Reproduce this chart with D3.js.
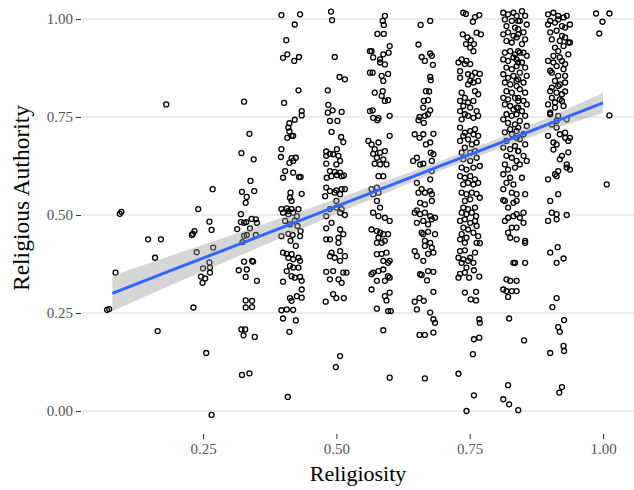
<!DOCTYPE html>
<html lang="en">
  <head>
    <meta charset="utf-8" />
    <script src="https://d3js.org/d3.v7.min.js"></script>
    <style>
      body {
        margin: 0;
        background: white;
      }
      .axis .domain {
        display: none;
      }
      .axis text {
        font-family: "Liberation Serif", serif;
        font-size: 15px;
        fill: #555;
      }
      .axis line {
        stroke: #333;
      }
    </style>
    <title>Religiosity vs Religious Authority</title>
  </head>

  <body>
    <svg id="scatter" width="634" height="490"></svg>

    <script>
      // points, grouped by religiosity column: [religiosity, authority]
      const col083 = [[0.070,0.258],[0.074,0.260],[0.086,0.353],[0.094,0.503],[0.097,0.508]];
      const col167 = [[0.147,0.438],[0.171,0.438],[0.160,0.391],[0.165,0.204],[0.181,0.782]];
      const col250 = [[0.232,0.264],[0.229,0.449],[0.231,0.452],[0.234,0.459],[0.241,0.515],[0.238,0.405],[0.256,0.148],[0.266,-0.010],[0.250,0.364],[0.254,0.338],[0.246,0.343],[0.249,0.327],[0.263,0.353],[0.262,0.379],[0.263,0.366],[0.262,0.483],[0.266,0.462],[0.269,0.417],[0.268,0.566]];
      const col333 = [[0.327,0.789],[0.337,0.707],[0.322,0.658],[0.345,0.642],[0.339,0.587],[0.323,0.559],[0.332,0.546],[0.346,0.561],[0.330,0.531],[0.321,0.502],[0.321,0.482],[0.327,0.480],[0.331,0.482],[0.341,0.490],[0.349,0.489],[0.351,0.480],[0.314,0.464],[0.338,0.466],[0.327,0.447],[0.332,0.449],[0.324,0.431],[0.349,0.449],[0.327,0.381],[0.342,0.383],[0.344,0.381],[0.317,0.359],[0.332,0.361],[0.330,0.342],[0.351,0.332],[0.330,0.282],[0.342,0.281],[0.330,0.264],[0.342,0.265],[0.322,0.208],[0.329,0.208],[0.326,0.193],[0.347,0.189],[0.323,0.092],[0.337,0.096]];
      const col417 = [[0.397,1.010],[0.432,1.012],[0.422,0.986],[0.406,0.946],[0.400,0.901],[0.408,0.910],[0.421,0.893],[0.430,0.903],[0.429,0.818],[0.402,0.786],[0.435,0.765],[0.435,0.754],[0.422,0.743],[0.412,0.734],[0.412,0.713],[0.416,0.702],[0.408,0.697],[0.419,0.702],[0.410,0.723],[0.397,0.668],[0.396,0.648],[0.416,0.645],[0.424,0.646],[0.412,0.633],[0.419,0.638],[0.404,0.612],[0.400,0.595],[0.419,0.608],[0.430,0.597],[0.433,0.597],[0.414,0.557],[0.435,0.554],[0.416,0.536],[0.413,0.544],[0.397,0.515],[0.407,0.517],[0.416,0.515],[0.429,0.515],[0.410,0.510],
        [0.400,0.506],[0.410,0.502],[0.419,0.506],[0.426,0.497],[0.404,0.485],[0.413,0.476],[0.422,0.485],[0.427,0.472],[0.433,0.459],[0.410,0.452],[0.418,0.449],[0.432,0.446],[0.397,0.446],[0.414,0.434],[0.424,0.421],[0.400,0.404],[0.407,0.401],[0.416,0.400],[0.410,0.391],[0.419,0.387],[0.429,0.391],[0.432,0.383],[0.413,0.370],[0.419,0.366],[0.429,0.366],[0.407,0.357],[0.416,0.344],[0.422,0.340],[0.432,0.342],[0.435,0.332],[0.400,0.330],[0.435,0.310],[0.426,0.293],[0.413,0.288],[0.435,0.289],[0.416,0.281],[0.397,0.257],[0.407,0.259],[0.419,0.258],[0.400,0.236],[0.424,0.231],[0.412,0.202],[0.409,0.036]];
      const col500 = [[0.490,1.019],[0.492,0.997],[0.497,0.903],[0.506,0.852],[0.516,0.846],[0.484,0.818],[0.485,0.781],[0.484,0.761],[0.493,0.767],[0.510,0.763],[0.488,0.740],[0.502,0.740],[0.491,0.712],[0.509,0.699],[0.513,0.686],[0.501,0.668],[0.481,0.662],[0.488,0.656],[0.494,0.655],[0.481,0.651],[0.504,0.651],[0.507,0.638],[0.481,0.631],[0.500,0.629],[0.488,0.612],[0.497,0.610],[0.507,0.608],[0.510,0.599],[0.514,0.601],[0.491,0.599],[0.501,0.602],[0.482,0.595],[0.481,0.570],[0.488,0.561],[0.500,0.563],[0.510,0.566],[0.516,0.566],[0.479,0.548],[0.497,0.557],[0.507,0.553],[0.500,0.536],[0.500,0.519],[0.510,0.515],[0.488,0.515],
        [0.481,0.497],[0.507,0.506],[0.516,0.500],[0.491,0.480],[0.481,0.466],[0.507,0.463],[0.513,0.451],[0.481,0.438],[0.488,0.438],[0.504,0.442],[0.504,0.429],[0.491,0.404],[0.507,0.408],[0.516,0.395],[0.488,0.395],[0.507,0.383],[0.497,0.391],[0.481,0.355],[0.494,0.357],[0.513,0.353],[0.519,0.353],[0.488,0.336],[0.504,0.336],[0.510,0.327],[0.494,0.298],[0.500,0.288],[0.514,0.288],[0.480,0.279],[0.507,0.140],[0.499,0.112]];
      const col583 = [[0.591,1.008],[0.587,0.995],[0.589,0.985],[0.577,0.962],[0.589,0.962],[0.600,0.931],[0.566,0.918],[0.588,0.910],[0.598,0.914],[0.582,0.897],[0.569,0.902],[0.591,0.884],[0.582,0.889],[0.568,0.863],[0.585,0.855],[0.597,0.860],[0.588,0.842],[0.572,0.812],[0.587,0.816],[0.585,0.804],[0.591,0.791],[0.597,0.793],[0.568,0.767],[0.569,0.748],[0.579,0.747],[0.600,0.753],[0.577,0.742],[0.600,0.702],[0.579,0.685],[0.572,0.668],[0.582,0.659],[0.591,0.663],[0.576,0.646],[0.588,0.642],[0.566,0.680],[0.569,0.656],[0.572,0.631],[0.582,0.629],[0.594,0.629],[0.579,0.599],[0.588,0.599],[0.576,0.570],[0.566,0.566],[0.569,0.553],[0.579,0.557],[0.576,0.536],[0.582,0.519],[0.563,0.918],[0.563,0.863],[0.563,0.765],[0.560,0.689],
        [0.569,0.506],[0.579,0.497],[0.591,0.493],[0.600,0.485],[0.566,0.463],[0.576,0.459],[0.582,0.455],[0.588,0.451],[0.597,0.451],[0.579,0.442],[0.591,0.434],[0.576,0.429],[0.585,0.429],[0.576,0.400],[0.585,0.401],[0.594,0.404],[0.600,0.383],[0.588,0.383],[0.597,0.378],[0.588,0.361],[0.579,0.357],[0.569,0.353],[0.566,0.349],[0.597,0.344],[0.576,0.332],[0.591,0.332],[0.600,0.340],[0.566,0.310],[0.591,0.293],[0.600,0.302],[0.594,0.282],[0.576,0.261],[0.597,0.255],[0.602,0.255],[0.588,0.206],[0.600,0.085]];
      const col667 = [[0.658,0.985],[0.676,0.995],[0.654,0.935],[0.660,0.903],[0.676,0.912],[0.666,0.893],[0.681,0.883],[0.679,0.906],[0.676,0.852],[0.677,0.844],[0.668,0.816],[0.674,0.815],[0.664,0.791],[0.672,0.793],[0.663,0.774],[0.676,0.767],[0.656,0.750],[0.666,0.753],[0.672,0.757],[0.654,0.742],[0.664,0.735],[0.647,0.706],[0.663,0.706],[0.682,0.707],[0.676,0.685],[0.656,0.697],[0.668,0.680],[0.677,0.659],[0.682,0.655],[0.651,0.646],[0.657,0.629],[0.663,0.631],[0.644,0.638],[0.679,0.638],[0.651,0.582],[0.660,0.566],[0.676,0.561],[0.679,0.553],[0.666,0.557],[0.654,0.557],[0.657,0.531],[0.666,0.527],[0.679,0.536],[0.651,0.512],[0.679,0.612],[0.676,0.591],
        [0.647,0.506],[0.657,0.502],[0.666,0.506],[0.676,0.497],[0.685,0.493],[0.651,0.480],[0.663,0.485],[0.672,0.476],[0.679,0.489],[0.660,0.455],[0.663,0.451],[0.672,0.457],[0.685,0.451],[0.666,0.434],[0.676,0.429],[0.666,0.421],[0.679,0.417],[0.682,0.404],[0.651,0.395],[0.672,0.401],[0.663,0.383],[0.647,0.408],[0.657,0.349],[0.660,0.347],[0.672,0.357],[0.682,0.355],[0.670,0.333],[0.682,0.304],[0.647,0.279],[0.656,0.288],[0.664,0.281],[0.651,0.259],[0.676,0.251],[0.682,0.234],[0.685,0.225],[0.656,0.194],[0.666,0.194],[0.682,0.200],[0.666,0.083]];
      const col750 = [[0.738,1.016],[0.743,1.013],[0.760,1.005],[0.768,1.010],[0.756,0.993],[0.737,0.961],[0.746,0.953],[0.763,0.965],[0.771,0.961],[0.752,0.946],[0.743,0.936],[0.758,0.936],[0.751,0.927],[0.757,0.918],[0.735,0.897],[0.744,0.893],[0.729,0.889],[0.741,0.885],[0.751,0.885],[0.732,0.867],[0.747,0.859],[0.754,0.855],[0.760,0.863],[0.769,0.860],[0.751,0.842],[0.757,0.838],[0.766,0.842],[0.747,0.833],[0.732,0.850],[0.735,0.812],[0.741,0.799],[0.732,0.791],[0.760,0.816],[0.766,0.808],[0.757,0.791],[0.747,0.787],[0.738,0.778],[0.751,0.774],[0.763,0.765],[0.732,0.765],[0.741,0.757],[0.747,0.753],[0.757,0.748],[0.766,0.753],[0.735,0.744],[0.732,0.723],[0.741,0.710],[0.751,0.714],[0.760,0.719],[0.738,0.702],[0.757,0.706],[0.766,0.702],[0.747,0.693],[0.732,0.689],[0.754,0.680],[0.763,0.685],[0.741,0.672],[0.735,0.659],[0.751,0.659],[0.760,0.663],[0.738,0.642],[0.751,0.638],[0.763,0.646],[0.735,0.621],[0.744,0.616],[0.757,0.621],[0.769,0.625],[0.732,0.599],[0.741,0.595],[0.751,0.599],[0.760,0.591],[0.747,0.582],[0.738,0.578],[0.757,0.578],[0.766,0.582],[0.735,0.557],[0.744,0.553],[0.754,0.557],[0.763,0.554],[0.741,0.536],[0.751,0.540],[0.769,0.544],[0.738,0.519],[0.747,0.515],[0.760,0.519],
        [0.735,0.506],[0.744,0.502],[0.754,0.506],[0.762,0.497],[0.732,0.485],[0.741,0.489],[0.751,0.480],[0.760,0.485],[0.738,0.468],[0.747,0.463],[0.763,0.472],[0.735,0.451],[0.757,0.455],[0.744,0.442],[0.732,0.438],[0.766,0.446],[0.763,0.429],[0.769,0.428],[0.741,0.429],[0.732,0.408],[0.741,0.410],[0.760,0.404],[0.729,0.391],[0.738,0.387],[0.751,0.391],[0.757,0.378],[0.735,0.378],[0.747,0.383],[0.744,0.366],[0.758,0.359],[0.732,0.350],[0.741,0.353],[0.729,0.340],[0.749,0.340],[0.768,0.343],[0.741,0.302],[0.762,0.304],[0.752,0.285],[0.762,0.282],[0.768,0.234],[0.769,0.225],[0.758,0.183],[0.768,0.187],[0.756,0.145],[0.729,0.095],[0.758,0.040],[0.744,0.000]];
      const col833 = [[0.813,1.016],[0.822,1.012],[0.832,1.016],[0.838,1.008],[0.816,0.999],[0.829,0.995],[0.841,0.995],[0.819,0.982],[0.835,0.978],[0.813,0.961],[0.822,0.966],[0.832,0.957],[0.841,0.961],[0.819,0.944],[0.829,0.940],[0.816,0.914],[0.826,0.918],[0.835,0.910],[0.844,0.914],[0.813,0.897],[0.822,0.893],[0.832,0.902],[0.841,0.889],[0.819,0.876],[0.829,0.872],[0.838,0.880],[0.813,0.859],[0.822,0.850],[0.832,0.855],[0.841,0.846],[0.816,0.838],[0.826,0.833],[0.838,0.829],[0.819,0.816],[0.829,0.812],[0.813,0.799],[0.822,0.795],[0.835,0.799],[0.841,0.791],[0.816,0.782],[0.826,0.778],[0.832,0.769],[0.841,0.774],[0.819,0.757],[0.829,0.753],[0.838,0.757],[0.813,0.744],[0.822,0.735],[0.835,0.731],[0.826,0.719],[0.841,0.723],[0.816,0.711],[0.829,0.706],[0.838,0.697],[0.819,0.689],[0.813,0.672],[0.826,0.668],[0.835,0.676],[0.841,0.663],[0.819,0.651],[0.829,0.646],[0.838,0.638],[0.816,0.629],[0.822,0.616],[0.835,0.621],[0.813,0.604],[0.826,0.595],[0.819,0.582],[0.832,0.578],[0.813,0.566],[0.829,0.557],[0.838,0.553],[0.816,0.536],[0.832,0.531],[0.822,0.519],[0.813,0.538],
        [0.848,1.020],[0.854,1.008],[0.844,0.995],[0.857,0.986],[0.841,0.974],[0.851,0.966],[0.838,0.953],[0.854,0.948],[0.848,0.936],[0.841,0.918],[0.851,0.914],[0.857,0.906],[0.838,0.897],[0.848,0.889],[0.854,0.876],[0.844,0.863],[0.857,0.855],[0.838,0.842],[0.851,0.838],[0.844,0.821],[0.854,0.812],[0.841,0.799],[0.851,0.791],[0.857,0.782],[0.838,0.774],[0.848,0.765],[0.854,0.753],[0.844,0.740],[0.857,0.727],[0.838,0.714],[0.851,0.706],[0.844,0.693],[0.854,0.680],[0.841,0.663],[0.851,0.651],[0.857,0.638],[0.844,0.629],[0.848,0.595],[0.854,0.553],[0.838,0.536],
        [0.816,0.485],[0.822,0.493],[0.832,0.497],[0.838,0.502],[0.829,0.468],[0.822,0.455],[0.826,0.442],[0.838,0.438],[0.832,0.378],[0.819,0.336],[0.826,0.332],[0.838,0.332],[0.813,0.310],[0.819,0.306],[0.829,0.306],[0.838,0.306],[0.822,0.291],[0.824,0.236],[0.822,0.066],[0.813,0.030],[0.824,0.017],[0.841,0.002],
        [0.851,0.506],[0.844,0.493],[0.851,0.480],[0.838,0.468],[0.854,0.434],[0.854,0.429],[0.835,0.378],[0.854,0.378],[0.852,0.180]];
      const col917 = [[0.897,1.012],[0.907,1.016],[0.916,1.008],[0.926,1.004],[0.932,1.008],[0.897,0.986],[0.910,0.991],[0.923,0.982],[0.901,0.966],[0.913,0.970],[0.929,0.953],[0.919,0.944],[0.935,0.940],[0.926,0.931],[0.916,0.918],[0.897,0.893],[0.907,0.889],[0.923,0.893],[0.913,0.880],[0.929,0.885],[0.904,0.863],[0.916,0.855],[0.929,0.855],[0.910,0.842],[0.919,0.833],[0.901,0.816],[0.913,0.812],[0.923,0.808],[0.929,0.815],[0.904,0.799],[0.919,0.795],[0.897,0.782],[0.910,0.774],[0.926,0.778],[0.901,0.757],[0.916,0.753],[0.932,0.744],[0.904,0.731],[0.913,0.723],[0.897,0.702],[0.919,0.706],[0.929,0.697],[0.907,0.685],[0.935,0.689],[0.913,0.680],[0.923,0.651],[0.932,0.629],[0.916,0.612],[0.932,0.621],[0.910,0.604],[0.897,0.591],[0.913,0.599],[0.901,0.536],[0.916,0.553],
        [0.901,0.995],[0.916,0.999],[0.929,0.978],[0.904,0.948],[0.923,0.957],[0.910,0.927],[0.935,0.910],[0.907,0.906],[0.919,0.902],[0.926,0.872],[0.901,0.868],[0.916,0.829],[0.929,0.838],[0.904,0.825],[0.910,0.787],[0.923,0.791],[0.901,0.761],[0.913,0.740],[0.929,0.710],[0.907,0.667],[0.919,0.642],[0.935,0.660],
        [0.904,0.506],[0.913,0.502],[0.932,0.500],[0.897,0.485],[0.913,0.489],[0.901,0.404],[0.915,0.418],[0.913,0.378],[0.926,0.389],[0.913,0.288],[0.905,0.265],[0.927,0.232],[0.916,0.214],[0.919,0.202],[0.901,0.148],[0.926,0.166],[0.927,0.153],[0.923,0.061],[0.918,0.047],
        [0.938,0.986],[0.938,0.940],[0.938,0.697],[0.938,0.616]];
      const col1000 = [[0.987,1.014],[1.012,1.014],[0.999,0.993],[0.993,0.963],[1.012,0.754],[1.007,0.578]];

      // linear fit and its confidence band, read at a few x positions
      const fitX = [0.08, 0.2, 0.3, 0.4, 0.5, 0.6, 0.7, 0.8, 0.9, 1.0];
      const fitY = [0.300, 0.364, 0.416, 0.469, 0.522, 0.575, 0.628, 0.680, 0.733, 0.786];
      const fitLo = [0.255, 0.327, 0.385, 0.444, 0.503, 0.560, 0.616, 0.667, 0.716, 0.761];
      const fitHi = [0.345, 0.401, 0.447, 0.494, 0.541, 0.590, 0.640, 0.693, 0.750, 0.811];

      const xTicks = [0.25, 0.5, 0.75, 1.0];
      const yTicks = [0, 0.25, 0.5, 0.75, 1.0];

      const points = [].concat(col083, col167, col250, col333, col417, col500,
        col583, col667, col750, col833, col917, col1000);
      const fit = fitX.map((x, i) => ({ x: x, y: fitY[i], lo: fitLo[i], hi: fitHi[i] }));

      const svg = d3.select("svg#scatter");
      const panel = { left: 82, right: 634, bottom: 434 };

      const xScale = d3.scaleLinear().domain([0, 1]).range([69.7, 603]);
      const yScale = d3.scaleLinear().domain([0, 1]).range([411, 19]);

      // horizontal gridlines only
      svg
        .append("g")
        .selectAll("line")
        .data(yTicks)
        .join("line")
        .attr("x1", panel.left)
        .attr("x2", panel.right)
        .attr("y1", d => yScale(d))
        .attr("y2", d => yScale(d))
        .attr("stroke", "#dadada")
        .attr("stroke-width", 1.2);

      svg
        .append("g")
        .selectAll("circle")
        .data(points)
        .join("circle")
        .attr("cx", d => xScale(d[0]))
        .attr("cy", d => yScale(d[1]))
        .attr("r", 2.5)
        .attr("fill", "none")
        .attr("stroke", "black")
        .attr("stroke-width", 1.3);

      svg
        .append("path")
        .datum(fit)
        .attr("fill", "#999999")
        .attr("fill-opacity", 0.4)
        .attr(
          "d",
          d3
            .area()
            .x(d => xScale(d.x))
            .y0(d => yScale(d.lo))
            .y1(d => yScale(d.hi))
        );

      svg
        .append("path")
        .datum(fit)
        .attr("fill", "none")
        .attr("stroke", "#3366FF")
        .attr("stroke-width", 3)
        .attr(
          "d",
          d3
            .line()
            .x(d => xScale(d.x))
            .y(d => yScale(d.y))
        );

      svg
        .append("g")
        .attr("class", "axis")
        .attr("transform", `translate(${panel.left - 1},0)`)
        .call(
          d3.axisLeft(yScale).tickValues(yTicks).tickSize(5).tickPadding(3)
            .tickFormat(d3.format(".2f"))
        );

      svg
        .append("g")
        .attr("class", "axis")
        .attr("transform", `translate(0,${panel.bottom})`)
        .call(
          d3.axisBottom(xScale).tickValues(xTicks).tickSize(5).tickPadding(4)
            .tickFormat(d3.format(".2f"))
        );

      svg
        .append("text")
        .attr("x", (panel.left + panel.right) / 2)
        .attr("y", 481)
        .attr("text-anchor", "middle")
        .attr("font-family", "Liberation Serif, serif")
        .attr("font-size", "22px")
        .attr("fill", "black")
        .text("Religiosity");

      svg
        .append("text")
        .attr("transform", "translate(29,198) rotate(-90)")
        .attr("text-anchor", "middle")
        .attr("font-family", "Liberation Serif, serif")
        .attr("font-size", "23.5px")
        .attr("fill", "black")
        .text("Religious Authority");
    </script>
  </body>
</html>
